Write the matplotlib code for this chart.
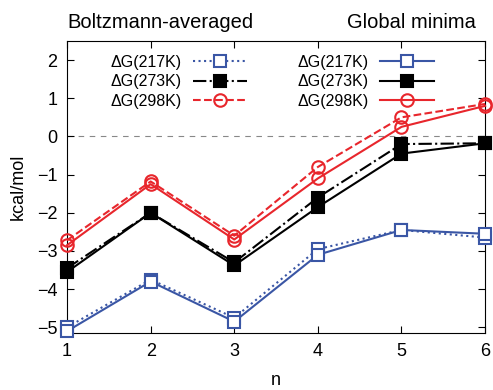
import matplotlib
matplotlib.use("Agg")
import matplotlib.pyplot as plt

plt.rcParams['font.family'] = ['Liberation Sans', 'DejaVu Sans']

n = [1, 2, 3, 4, 5, 6]

# Boltzmann-averaged
boltz_217 = [-5.0, -3.75, -4.75, -2.95, -2.45, -2.65]
boltz_273 = [-3.45, -2.0, -3.3, -1.6, -0.2, -0.18]
boltz_298 = [-2.72, -1.18, -2.6, -0.8, 0.5, 0.85]

# Global minima
glob_217 = [-5.1, -3.8, -4.85, -3.1, -2.45, -2.55]
glob_273 = [-3.55, -2.0, -3.38, -1.85, -0.45, -0.18]
glob_298 = [-2.85, -1.25, -2.7, -1.1, 0.25, 0.8]

labels = ["ΔG(217K)", "ΔG(273K)", "ΔG(298K)"]

blue = "#3a56a5"
red = "#e8262c"
black = "#000000"

fig = plt.figure(figsize=(4.93, 3.9), dpi=100)
ax = fig.add_axes([0.136, 0.146, 0.848, 0.749])

ax.axhline(0, color="#888888", lw=0.8, ls=(0, (5, 5)), zorder=1)

styles = [
    (blue, dict(marker='s', mfc='white', mec=blue)),
    (black, dict(marker='s', mfc=black, mec=black)),
    (red, dict(marker='o', mfc='none', mec=red)),
]

h_boltz = []
h_glob = []
for (col, mk), yb, ls in zip(styles, [boltz_217, boltz_273, boltz_298], [':', '-.', '--']):
    h, = ax.plot(n, yb, color=col, ls=ls, lw=1.5, ms=9, mew=1.5, clip_on=False, zorder=3, **mk)
    h_boltz.append(h)
for (col, mk), yg in zip(styles, [glob_217, glob_273, glob_298]):
    h, = ax.plot(n, yg, color=col, ls='-', lw=1.5, ms=9, mew=1.5, clip_on=False, zorder=3, **mk)
    h_glob.append(h)

ax.set_xlim(1, 6)
ax.set_ylim(-5.15, 2.5)
ax.set_xticks(n)
ax.set_yticks([-5, -4, -3, -2, -1, 0, 1, 2])
ax.tick_params(direction='in', top=True, right=True, labelsize=13, length=5, pad=7)
ax.set_xlabel("n", fontsize=13, labelpad=9)
ax.set_ylabel("kcal/mol", fontsize=13, labelpad=7)

leg_kw = dict(loc='upper right', frameon=False, markerfirst=False, fontsize=11.5,
              handlelength=3.4, handletextpad=0.7, borderpad=0, labelspacing=0.28)
leg1 = fig.legend(h_boltz, labels, bbox_to_anchor=(255 / 493, 1 - 47 / 390), **leg_kw)
leg2 = fig.legend(h_glob, labels, bbox_to_anchor=(442 / 493, 1 - 47 / 390), **leg_kw)

fig.text(67 / 493, 1 - 23 / 390, "Boltzmann-averaged", fontsize=14.5, ha='left', va='center')
fig.text(476 / 493, 1 - 23 / 390, "Global minima", fontsize=14.5, ha='right', va='center')

fig.savefig("out.png", dpi=100)
